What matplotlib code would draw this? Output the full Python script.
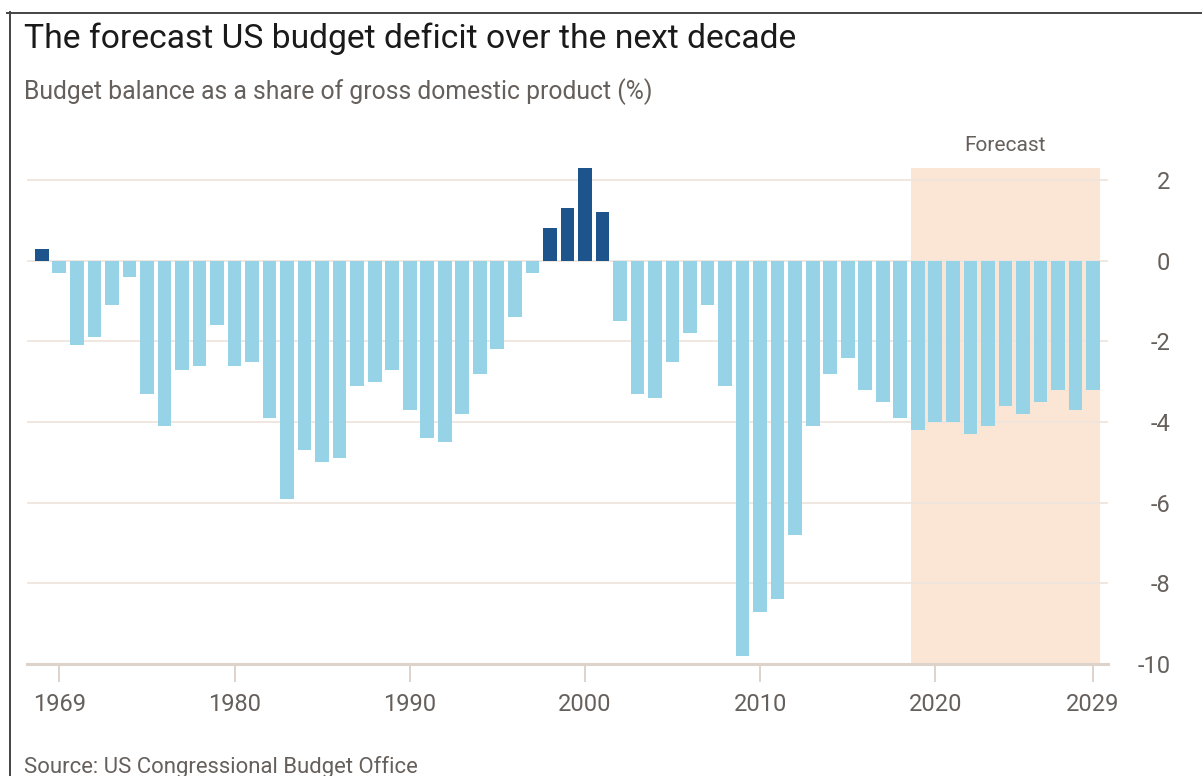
import numpy as np
import matplotlib
matplotlib.use("Agg")
from matplotlib import pyplot as plt
from matplotlib.lines import Line2D

plt.rcParams["font.family"] = ["Roboto", "DejaVu Sans"]

# Federal budget balance, % of GDP (1969-2018 actual, 2019-2029 CBO forecast)
years = np.arange(1969, 2030)
balance = [
    0.3, -0.3, -2.1, -1.9, -1.1, -0.4, -3.3, -4.1, -2.7, -2.6,   # 1969-1978
    -1.6, -2.6, -2.5, -3.9, -5.9, -4.7, -5.0, -4.9, -3.1, -3.0,  # 1979-1988
    -2.7, -3.7, -4.4, -4.5, -3.8, -2.8, -2.2, -1.4, -0.3, 0.8,   # 1989-1998
    1.3, 2.3, 1.2, -1.5, -3.3, -3.4, -2.5, -1.8, -1.1, -3.1,     # 1999-2008
    -9.8, -8.7, -8.4, -6.8, -4.1, -2.8, -2.4, -3.2, -3.5, -3.9,  # 2009-2018
    -4.2, -4.0, -4.0, -4.3, -4.1, -3.6, -3.8, -3.5, -3.2, -3.7,  # 2019-2028
    -3.2,                                                        # 2029
]
forecast_start, forecast_end = 2019, 2029

xtick_pos = [1970, 1980, 1990, 2000, 2010, 2020, 2029]
xtick_labels = ["1969", "1980", "1990", "2000", "2010", "2020", "2029"]
yticks = [2, 0, -2, -4, -6, -8, -10]

TITLE = "The forecast US budget deficit over the next decade"
SUBTITLE = "Budget balance as a share of gross domestic product (%)"
SOURCE = "Source: US Congressional Budget Office"

SURPLUS = "#1e548c"
DEFICIT = "#97d3e6"
SHADE = "#fbe5d5"
GRID = "#efe5dd"
AXIS = "#ddd3ca"
TEXT_GREY = "#66605c"

W, H = 1202, 776
fig = plt.figure(figsize=(W / 100, H / 100), dpi=100)
ax = fig.add_axes([27 / W, 1 - 664 / H, 1081 / W, 496 / H])

width = 0.78
colors = [SURPLUS if v > 0 else DEFICIT for v in balance]
ax.axvspan(forecast_start - width / 2, forecast_end + width / 2,
           color=SHADE, lw=0, zorder=0)
ax.bar(years, balance, width, color=colors, zorder=2)

ax.set_xlim(1968.155, 2029.856)
ax.set_ylim(-10, 2.3)

for y in yticks[:-1]:
    ax.axhline(y, color=GRID, lw=1.3, zorder=1)

for s in ["top", "left", "right"]:
    ax.spines[s].set_visible(False)
ax.spines["bottom"].set_color(AXIS)
ax.spines["bottom"].set_linewidth(2.2)
ax.spines["bottom"].set_zorder(3)

ax.set_xticks(xtick_pos)
ax.set_xticklabels(xtick_labels)
ax.tick_params(axis="x", length=13, width=1.4, color=AXIS, pad=8,
               labelsize=17, labelcolor=TEXT_GREY)

ax.yaxis.tick_right()
ax.set_yticks(yticks)
ax.set_yticklabels([str(v) for v in yticks], ha="right")
ax.tick_params(axis="y", length=0, pad=45, labelsize=17,
               labelcolor=TEXT_GREY)

ax.text((forecast_start + forecast_end) / 2, 2.85, "Forecast",
        ha="center", va="center", fontsize=15, color=TEXT_GREY,
        clip_on=False)

fig.text(24 / W, 1 - 48 / H, TITLE, fontsize=24.2, color="#1a1a1a",
         va="baseline", ha="left")
fig.text(24 / W, 1 - 99 / H, SUBTITLE, fontsize=17.8, color=TEXT_GREY,
         va="baseline", ha="left")
fig.text(24 / W, 1 - 773 / H, SOURCE, fontsize=15.9, color=TEXT_GREY,
         va="baseline", ha="left")

# frame edges
fig.add_artist(Line2D([10 / W, 10 / W], [0, 1 - 12 / H],
                      color="#444444", lw=1.4))
fig.add_artist(Line2D([7 / W, 1], [1 - 12.5 / H, 1 - 12.5 / H],
                      color="#444444", lw=1.4))

fig.savefig("out.png", dpi=100)
